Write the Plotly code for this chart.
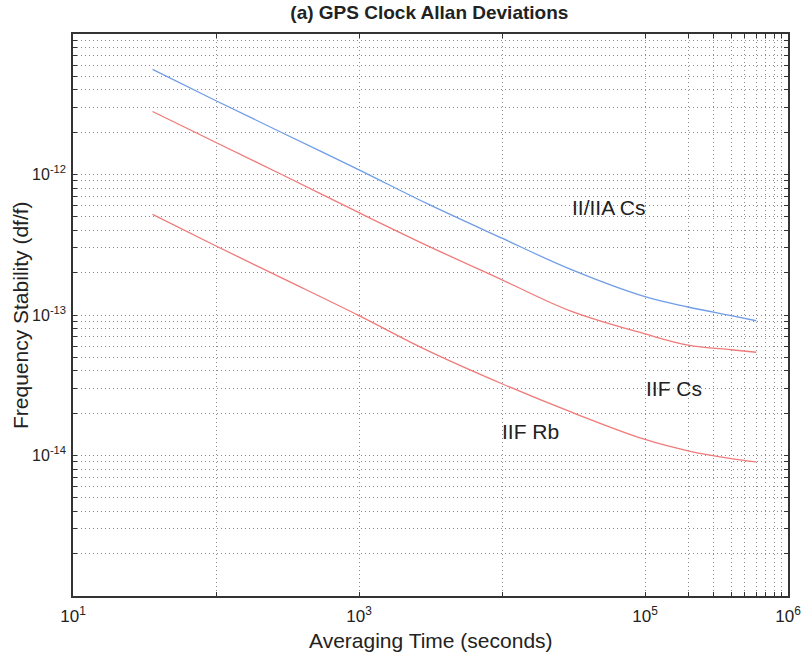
import math
import plotly.graph_objects as go

# Averaging time (s)
tau = [36, 100, 300, 1000, 3000, 1e4, 3e4, 1e5, 2e5, 4e5, 6e5]

# Allan deviations
cs_ii_iia = [5.6e-12, 3.35e-12, 1.95e-12, 1.08e-12, 6.2e-13, 3.52e-13, 2.12e-13, 1.35e-13, 1.14e-13, 9.9e-14, 9.1e-14]
cs_iif = [2.81e-12, 1.69e-12, 0.98e-12, 5.35e-13, 3.12e-13, 1.78e-13, 1.07e-13, 7.33e-14, 6.1e-14, 5.66e-14, 5.43e-14]
rb_iif = [5.2e-13, 3.1e-13, 1.8e-13, 9.9e-14, 5.6e-14, 3.24e-14, 2.05e-14, 1.3e-14, 1.08e-14, 9.5e-15, 9.0e-15]

series_names = ["II/IIA Cs", "IIF Cs", "IIF Rb"]

# Tick / grid positions
x_tickvals = [10, 1e2, 1e3, 1e4, 1e5, 2e5, 3e5, 4e5, 5e5, 6e5, 7e5, 8e5, 9e5, 1e6]
x_labels = {10: "10<sup>1</sup>", 1e3: "10<sup>3</sup>", 1e5: "10<sup>5</sup>", 1e6: "10<sup>6</sup>"}
y_tickvals = [m * 10.0 ** e for e in range(-15, -11) for m in range(1, 10)] + [1e-11]
y_labels = {-14: "10<sup>-14</sup>", -13: "10<sup>-13</sup>", -12: "10<sup>-12</sup>"}

x_ticktext = [x_labels.get(v, "") for v in x_tickvals]
y_ticktext = []
for v in y_tickvals:
    e = math.log10(v)
    key = round(e)
    y_ticktext.append(y_labels[key] if abs(e - key) < 1e-9 and key in y_labels else "")

FONT = "Liberation Sans, Arial, sans-serif"

fig = go.Figure()
colors = ["#6f9de6", "#f07a7a", "#f07a7a"]
for name, ys, c in zip(series_names, [cs_ii_iia, cs_iif, rb_iif], colors):
    fig.add_trace(go.Scatter(x=tau, y=ys, mode="lines", name=name,
                             line=dict(color=c, width=1.3, shape="spline", smoothing=1.0)))

label_font = dict(family=FONT, size=21, color="#222")
fig.add_annotation(x=4.748, y=-12.234, text="II/IIA Cs", showarrow=False, font=label_font)
fig.add_annotation(x=5.203, y=-13.525, text="IIF Cs", showarrow=False, font=label_font)
fig.add_annotation(x=4.196, y=-13.83, text="IIF Rb", showarrow=False, font=label_font)

# Axis titles
fig.add_annotation(xref="paper", yref="paper", x=0.5, y=-0.0783, xanchor="center",
                   yanchor="middle", text="Averaging Time (seconds)", showarrow=False,
                   font=label_font)
fig.add_annotation(xref="paper", yref="paper", x=-0.0741, y=0.5, xanchor="center",
                   yanchor="middle", textangle=-90, text="Frequency Stability (df/f)",
                   showarrow=False, font=label_font)

axis_common = dict(
    showline=True, linecolor="#333", linewidth=1.5, mirror="ticks",
    ticks="inside", ticklen=4, tickcolor="#333",
    showgrid=True, gridcolor="#8a8a92", griddash="1px,3px", gridwidth=1,
    zeroline=False, automargin=False, ticklabeloverflow="allow",
)

fig.update_xaxes(type="log", range=[1, 6], tickmode="array", tickvals=x_tickvals,
                 ticktext=x_ticktext, ticklabelstandoff=4,
                 tickfont=dict(family=FONT, size=17, color="#222"), **axis_common)
fig.update_yaxes(type="log", range=[-15, -11], tickmode="array", tickvals=y_tickvals,
                 ticktext=y_ticktext, ticklabelstandoff=2,
                 tickfont=dict(family=FONT, size=16, color="#222"), **axis_common)

fig.update_layout(
    width=804, height=655,
    margin=dict(l=73, r=16, t=34, b=59),
    paper_bgcolor="white", plot_bgcolor="white",
    showlegend=False,
    title=dict(text="<b>(a) GPS Clock Allan Deviations</b>", x=0.534, xanchor="center",
               xref="container", yref="container", y=0.9908, yanchor="top",
               pad=dict(t=0, b=0),
               font=dict(family=FONT, size=19, color="#222")),
)

# Remove the default page margin so the figure fills the 804x655 window exactly
fig.write_html(
    "out.html",
    config={"displayModeBar": False},
    post_script="document.body.style.margin='0';document.body.style.overflow='hidden';",
)
